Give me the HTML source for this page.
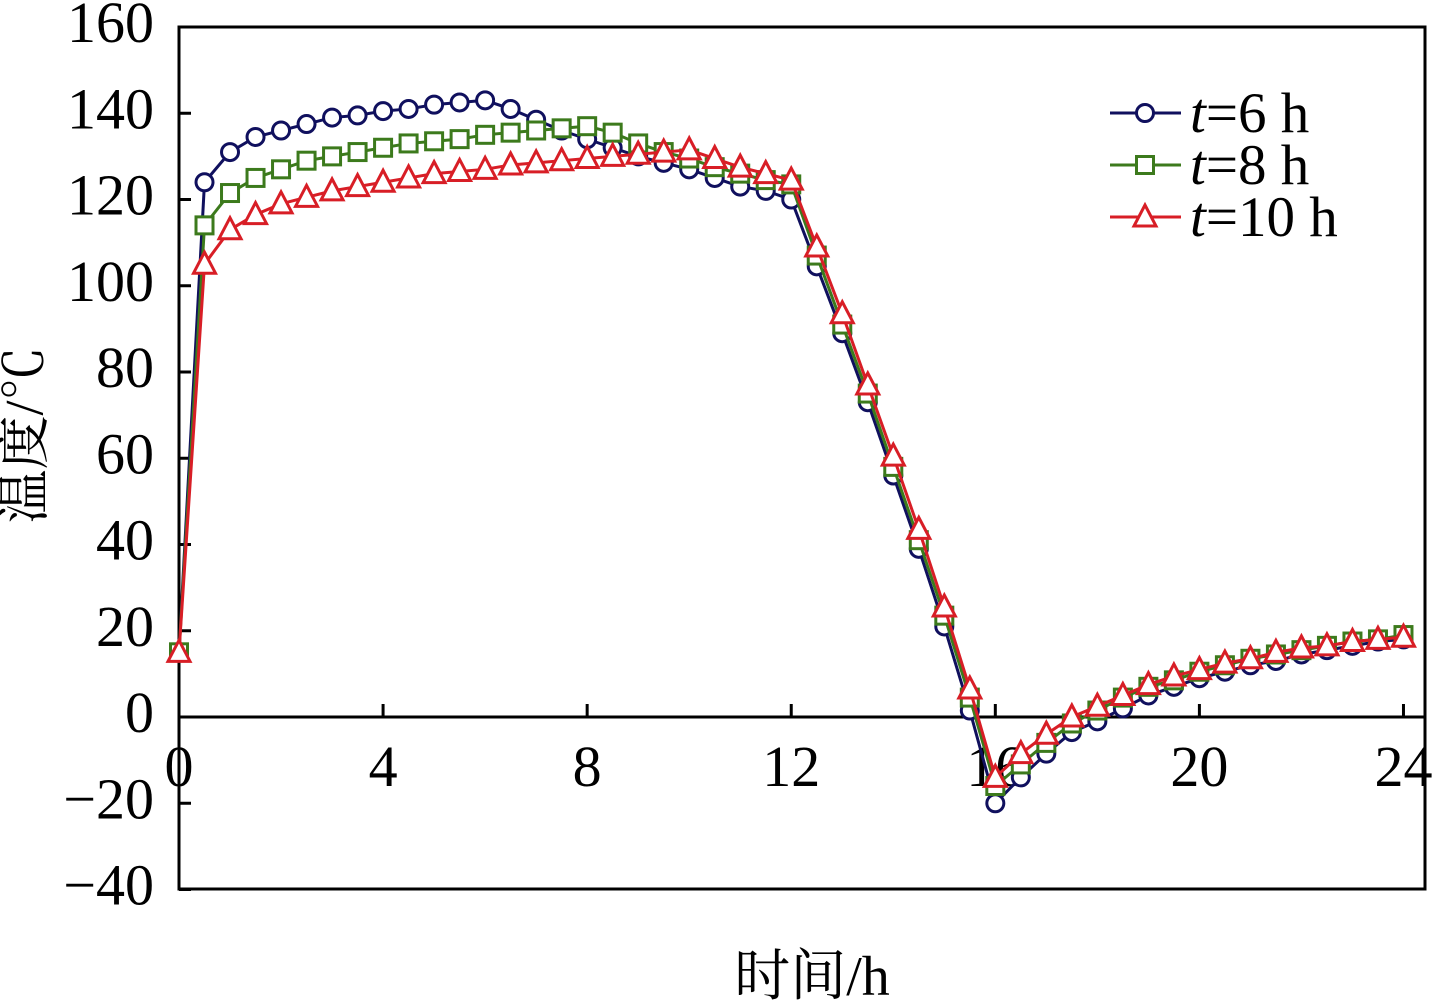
<!DOCTYPE html>
<html><head><meta charset="utf-8"><style>
html,body{margin:0;padding:0;background:#fff;}
svg{display:block;}
text{font-family:"Liberation Serif","Noto Serif CJK SC",serif;fill:#000;}
</style></head><body>
<svg id="chart" width="1434" height="1006" viewBox="0 0 1434 1006" xmlns="http://www.w3.org/2000/svg">
<rect x="179" y="27" width="1246" height="862" fill="none" stroke="#000" stroke-width="3"/>
<g id="axes"></g>
<g id="series"></g>
<text x="30" y="435" font-size="54" text-anchor="middle" transform="rotate(-90 30 435)" dominant-baseline="middle">温度/℃</text>
<text x="812" y="995" font-size="56" text-anchor="middle">时间/h</text>
<g id="legend"></g>
</svg>
<script>
const hours = [0,0.5,1,1.5,2,2.5,3,3.5,4,4.5,5,5.5,6,6.5,7,7.5,8,8.5,9,9.5,10,10.5,11,11.5,12,12.5,13,13.5,14,14.5,15,15.5,16,16.5,17,17.5,18,18.5,19,19.5,20,20.5,21,21.5,22,22.5,23,23.5,24];
const seriesT6 = [15,124,131,134.5,136,137.5,139,139.5,140.5,141,142,142.5,143,141,138.5,136,134,132,130,128.5,127,125,123,122,120,104.5,89,73,56,39,21,1.5,-20,-14,-8.5,-3.5,-1,2,5,7,9,10.5,12,13,14.5,15.5,16.5,17.5,18];
const seriesT8 = [15,114,121.5,125,127,129,130,131,132,133,133.5,134,135,135.5,136,136.5,137,135.5,133,131,129.5,127.5,126,124.5,123.5,107,91,75,58,41,23.5,4.5,-16,-11,-6,-1.5,1.5,4.5,7,8.5,10.5,12,13.5,14.5,15.5,16.5,17.5,18,19];
const seriesT10 = [15,105,113,116.5,119,120.5,122,123,124,125,126,126.5,127,128,128.5,129,129.5,130,130.5,131,131.5,129.5,127.5,126,124.5,109,93.5,77,60.5,43.5,25.5,6.5,-14,-8.5,-4,0,2.5,5,7.5,9.5,11,12.5,13.5,15,16,16.5,17.5,18,18.5];
const xTicks = [0,4,8,12,16,20,24];
const yTicks = [-40,-20,0,20,40,60,80,100,120,140,160];
const seriesNames = ["t6","t8","t10"];
const legendLabels = ["6 h","8 h","10 h"];

const NS="http://www.w3.org/2000/svg";
const X = v => 179 + v*51.02;
const Y = v => 717 - v*4.3125;
function mk(tag, attrs, parent){const e=document.createElementNS(NS,tag);for(const k in attrs)e.setAttribute(k,attrs[k]);parent.appendChild(e);return e;}
const axes=document.getElementById('axes');
mk('line',{x1:179,y1:Y(0),x2:1425,y2:Y(0),stroke:'#000','stroke-width':3},axes);
yTicks.forEach(v=>{
  const l=mk('line',{x1:179,y1:Y(v),x2:191,y2:Y(v),stroke:'#000','stroke-width':3},axes);
  
  
  const t=mk('text',{x:154,y:Y(v)+15,'font-size':58,'text-anchor':'end'},axes);
  t.textContent = v<0 ? '\u2212'+Math.abs(v) : String(v);
  
  
});
xTicks.forEach(v=>{
  const l=mk('line',{x1:X(v),y1:Y(0),x2:X(v),y2:Y(0)-13,stroke:'#000','stroke-width':3},axes);
  
  
  const t=mk('text',{x:X(v),y:786,'font-size':58,'text-anchor':'middle'},axes);
  t.textContent=String(v);
  
  
});
const colors={t6:'#10105e',t8:'#3c7a1c',t10:'#d81e26'};
const data={t6:seriesT6,t8:seriesT8,t10:seriesT10};
function marker(kind,cx,cy,parent){
  let m;
  if(kind==='t6') m=mk('circle',{cx,cy,r:8.5,fill:'#fff',stroke:colors.t6,'stroke-width':3},parent);
  else if(kind==='t8') m=mk('rect',{x:cx-8.5,y:cy-8.5,width:17,height:17,fill:'#fff',stroke:colors.t8,'stroke-width':3},parent);
  else m=mk('polygon',{points:`${cx},${cy-12} ${cx-11},${cy+9} ${cx+11},${cy+9}`,fill:'#fff',stroke:colors.t10,'stroke-width':3},parent);
  return m;
}
const sg=document.getElementById('series');
seriesNames.forEach(s=>{
  const g=mk('g',{},sg);
  
  
  const pts=hours.map((h,i)=>X(h)+','+Y(data[s][i])).join(' ');
  const pl=mk('polyline',{points:pts,fill:'none',stroke:colors[s],'stroke-width':3},g);
  
  
  hours.forEach((h,i)=>{
    const m=marker(s,X(h),Y(data[s][i]),g);
    
    
  });
});
const lg=document.getElementById('legend');
seriesNames.forEach((s,i)=>{
  const y=113+i*52;
  const g=mk('g',{},lg);
  
  
  mk('line',{x1:1110,y1:y,x2:1181,y2:y,stroke:colors[s],'stroke-width':3},g);
  marker(s,1145,y,g);
  const t=mk('text',{x:1190,y:y+19,'font-size':57},g);
  const it=mk('tspan',{'font-style':'italic'},t);it.textContent='t';
  const r=mk('tspan',{},t);r.textContent='='+legendLabels[i];
});
</script>
</body></html>
